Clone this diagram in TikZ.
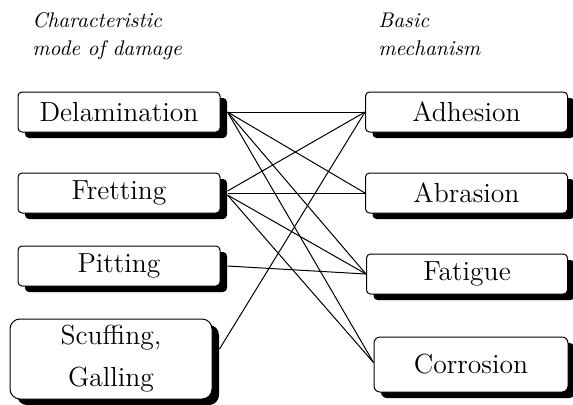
\documentclass[tikz,border=0pt]{standalone}
\usetikzlibrary{shadows}

\begin{document}
\begin{tikzpicture}[
  x=0.5pt,y=-0.5pt,
  wbox/.style={draw,fill=white,line width=0.5pt,rounded corners=2pt,align=center,
    font=\fontsize{13.8}{16}\selectfont,inner sep=0pt,
    minimum width=101pt,minimum height=20pt,
    drop shadow={shadow xshift=3.5pt,shadow yshift=-3pt,fill=black,opacity=1}},
  hdr/.style={font=\fontsize{10.6}{14}\selectfont\itshape,anchor=base west,inner sep=0pt},
  link/.style={line width=0.5pt}
]
\useasboundingbox (0,0) rectangle (573,404);

% column headings
\node[hdr] (hmode) at (32,27) {Characteristic};
\node[hdr] (hmode2) at (32,55) {mode of damage};
\node[hdr] (hmech) at (378,27) {Basic};
\node[hdr] (hmech2) at (378,55) {mechanism};

% modes of damage (left)
\node[wbox] (delam) at (119,112) {Delamination};
\node[wbox] (frett) at (119,193) {Fretting};
\node[wbox] (pitt)  at (119,266) {Pitting};
\node[wbox,minimum height=40pt,rounded corners=5pt,
      font=\fontsize{13.8}{21}\selectfont] (scuff) at (111,359) {Scuffing,\\ Galling};

% basic mechanisms (right)
\node[wbox] (adhes) at (466.5,112) {Adhesion};
\node[wbox] (abras) at (466.5,193) {Abrasion};
\node[wbox,minimum width=100.5pt] (fatig) at (467,274) {Fatigue};
\node[wbox,minimum width=97pt,minimum height=27.5pt,rounded corners=3pt] (corro) at (471,364.5) {Corrosion};

% links, starting from the shadow edge
\draw[link] ([xshift=3.5pt]delam.east) -- (adhes.west);
\draw[link] ([xshift=3.5pt]delam.east) -- (abras.west);
\draw[link] ([xshift=3.5pt]delam.east) -- (fatig.west);
\draw[link] ([xshift=3.5pt]delam.east) -- ([yshift=1pt]corro.west);
\draw[link] ([xshift=3.5pt,yshift=1pt]frett.east) -- (adhes.west);
\draw[link] ([xshift=3.5pt]frett.east) -- (abras.west);
\draw[link] ([xshift=3.5pt,yshift=-1pt]frett.east) -- (fatig.west);
\draw[link] ([xshift=3.5pt,yshift=-1pt]frett.east) -- ([yshift=1pt]corro.west);
\draw[link] ([xshift=3.5pt]pitt.east) -- (fatig.west);
\draw[link] ([xshift=3.5pt,yshift=5pt]scuff.east) -- (adhes.west);

\end{tikzpicture}
\end{document}
